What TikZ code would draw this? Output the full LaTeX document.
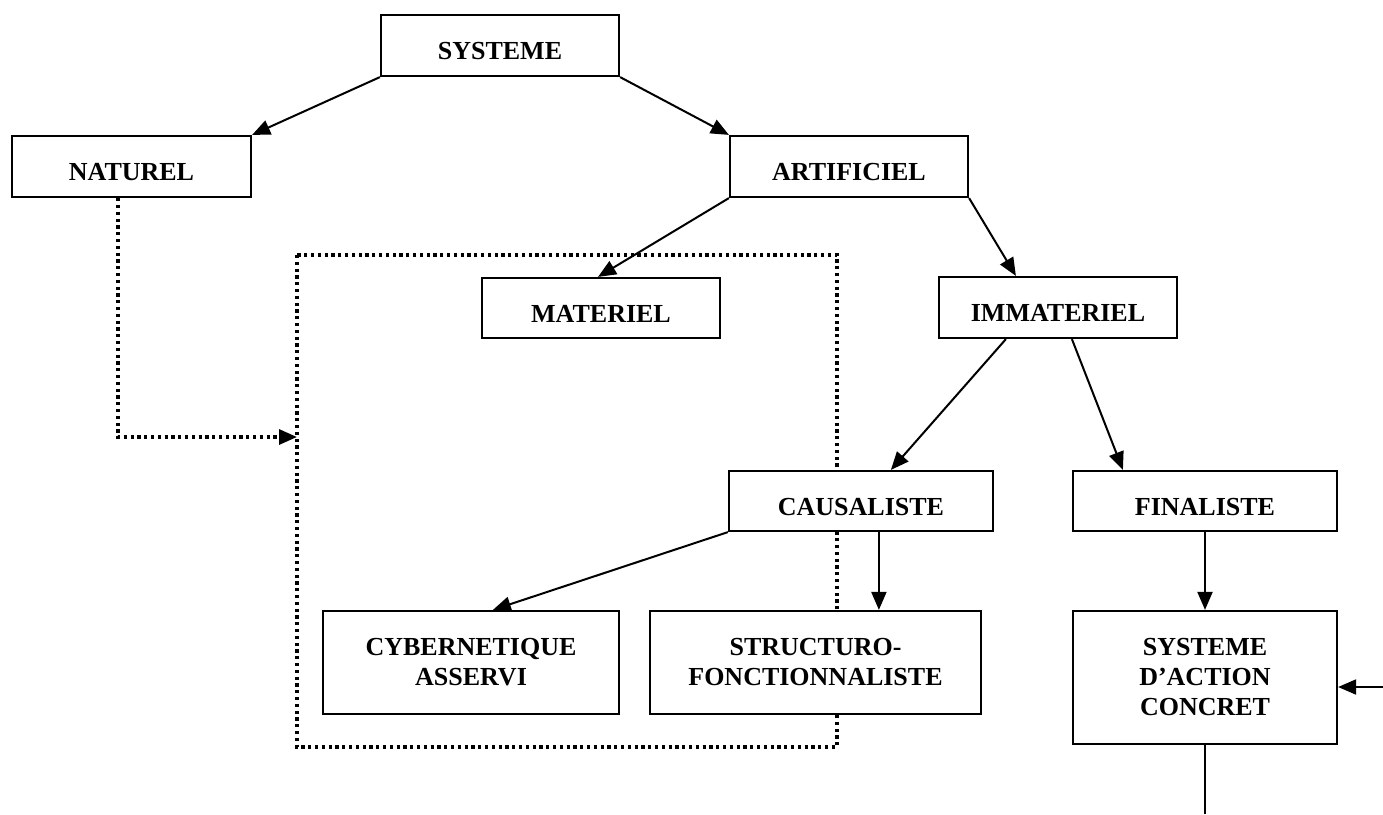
\documentclass[tikz,border=0pt]{standalone}
\usepackage{fontspec}
\setmainfont{Liberation Serif}
\usetikzlibrary{arrows.meta}
\begin{document}
\begin{tikzpicture}[x=1pt,y=-1pt,
  box/.style={draw=black,line width=2.2pt,fill=white,rectangle,inner sep=0pt,align=center,
    font=\fontsize{26}{30}\selectfont\bfseries},
  onebox/.style={box,text height=28pt,text depth=0pt},
  conn/.style={line width=2pt,-{Triangle[length=18pt,width=15pt]}},
  plain/.style={line width=2pt},
  dotline/.style={line width=3.2pt,dash pattern=on 3.2pt off 3.6pt}]
\useasboundingbox (0,0) rectangle (1383,814);
% dotted frame
\coordinate (fnw) at (297,255);
\coordinate (fse) at (837,747);
\draw[dotline] (fnw) rectangle (fse);
% nodes
\node[onebox,minimum width=238pt,minimum height=61pt] (sys) at (500,45.5) {SYSTEME};
\node[onebox,minimum width=239pt,minimum height=61pt] (nat) at (131.5,166.5) {NATUREL};
\node[onebox,minimum width=238pt,minimum height=61pt] (art) at (849,166.5) {ARTIFICIEL};
\node[onebox,minimum width=238pt,minimum height=60pt] (mat) at (601,308) {MATERIEL};
\node[onebox,minimum width=238pt,minimum height=61pt] (imm) at (1058,307.5) {IMMATERIEL};
\node[onebox,minimum width=264pt,minimum height=60pt] (cau) at (861,501) {CAUSALISTE};
\node[onebox,minimum width=264pt,minimum height=60pt] (fin) at (1205,501) {FINALISTE};
\node[box,minimum width=296pt,minimum height=103pt] (cyb) at (471,662.5) {CYBERNETIQUE\\ASSERVI};
\node[box,minimum width=331pt,minimum height=103pt] (str) at (815.5,662.5) {STRUCTURO-\\FONCTIONNALISTE};
\node[box,minimum width=264pt,minimum height=133pt] (sac) at (1205,677.5) {SYSTEME\\D’ACTION\\CONCRET};
% connectors
\draw[conn] (sys.south west) -- (nat.north east);
\draw[conn] (sys.south east) -- (art.north west);
\draw[conn] (art.south west) -- ([xshift=-3pt]mat.north);
\draw[conn] (art.south east) -- ([xshift=78pt]imm.north west);
\draw[conn] ([xshift=68pt]imm.south west) -- ([xshift=163pt]cau.north west);
\draw[conn] ([xshift=134pt]imm.south west) -- ([xshift=51pt]fin.north west);
\draw[conn] (cau.south west) -- ([xshift=171pt]cyb.north west);
\draw[conn] ([xshift=151pt]cau.south west) -- ([xshift=151pt]cau.south west |- str.north);
\draw[conn] (fin.south) -- (sac.north);
\coordinate (rin) at (1383,687);
\draw[conn] (rin) -- (rin -| sac.east);
\coordinate (bot) at (1205,814);
\draw[plain] (sac.south) -- (bot);
\coordinate (dotin) at (297,437);
\draw[dotline,-{Triangle[length=18pt,width=15pt]}] ([xshift=107pt]nat.south west) |- (dotin);
\end{tikzpicture}
\end{document}
